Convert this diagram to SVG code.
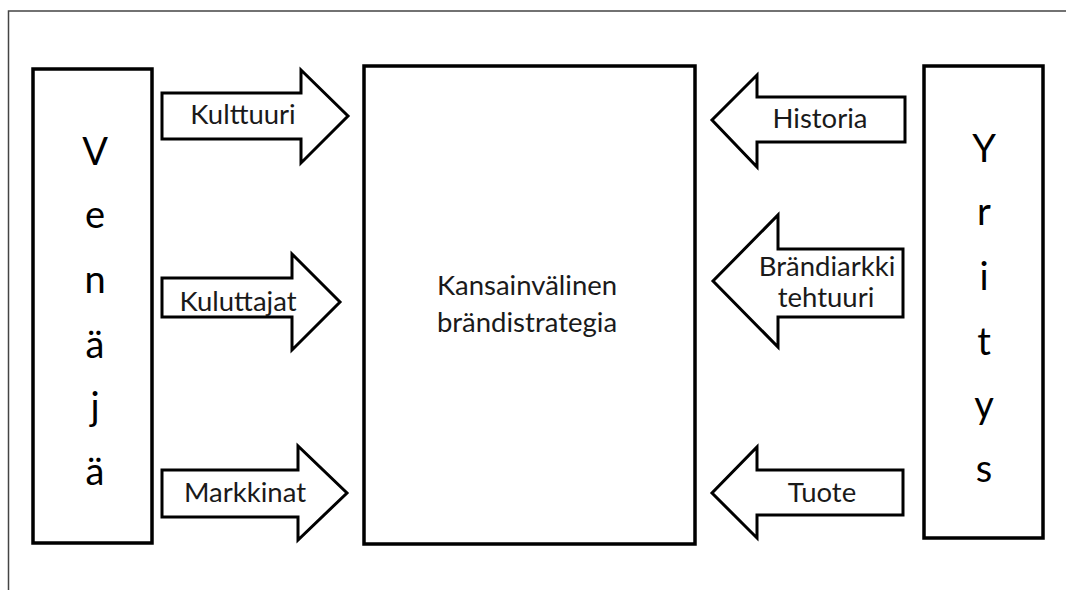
<svg xmlns="http://www.w3.org/2000/svg" width="1066" height="590" viewBox="0 0 1066 590">
<style>
.box{fill:#fff;stroke:#000;stroke-width:3.5;stroke-linejoin:miter}
.arr{fill:#fff;stroke:#000;stroke-width:3;stroke-linejoin:miter}
.lbl{font-family:Lato,"Noto Sans",sans-serif;font-size:27.5px;fill:#1a1a1a;text-anchor:middle}
.big{font-family:Lato,"Noto Sans",sans-serif;font-size:38px;fill:#000;text-anchor:middle}
</style>
<rect width="1066" height="590" fill="#fff"/>
<path d="M8.5,595 V11 H1070" fill="none" stroke="#444" stroke-width="1.5"/>
<g id="venaja">
<rect class="box" x="33" y="69" width="119" height="474"/>
<text class="big" x="95" y="165">V</text>
<text class="big" x="95" y="228">e</text>
<text class="big" x="95" y="293">n</text>
<text class="big" x="95" y="358">ä</text>
<text class="big" x="95" y="420">j</text>
<text class="big" x="95" y="485">ä</text>
</g>
<g id="yritys">
<rect class="box" x="924" y="66" width="119" height="472"/>
<text class="big" x="984" y="162">Y</text>
<text class="big" x="984" y="225">r</text>
<text class="big" x="984" y="290">i</text>
<text class="big" x="984" y="355">t</text>
<text class="big" x="984" y="418">y</text>
<text class="big" x="984" y="482">s</text>
</g>
<g id="strategia">
<rect class="box" x="364" y="66" width="331" height="478"/>
<text class="lbl" x="527" y="295">Kansainvälinen</text>
<text class="lbl" x="527" y="332">brändistrategia</text>
</g>
<g id="connectors">
<g id="kulttuuri">
<path class="arr" d="M162,93 H301 V70 L348,116 L301,163 V139 H162 Z"/>
<text class="lbl" x="243" y="124">Kulttuuri</text>
</g>
<g id="kuluttajat">
<path class="arr" d="M162,278 H292 V254 L340,302 L292,350 V317 H162 Z"/>
<text class="lbl" x="238" y="311">Kuluttajat</text>
</g>
<g id="markkinat">
<path class="arr" d="M162,470 H298 V446 L347,493 L298,540 V517 H162 Z"/>
<text class="lbl" x="245" y="502">Markkinat</text>
</g>
<g id="historia">
<path class="arr" d="M905,97 H757 V75 L712,120 L757,167 V142 H905 Z"/>
<text class="lbl" x="820" y="128">Historia</text>
</g>
<g id="brandiarkkitehtuuri">
<path class="arr" d="M903,249 H778 V215 L713,281 L778,347 V317 H903 Z"/>
<text class="lbl" x="827" y="276">Brändiarkki</text>
<text class="lbl" x="826" y="307">tehtuuri</text>
</g>
<g id="tuote">
<path class="arr" d="M903,470 H757 V447 L712,493 L757,538 V515 H903 Z"/>
<text class="lbl" x="822" y="502">Tuote</text>
</g>
</g>
</svg>
